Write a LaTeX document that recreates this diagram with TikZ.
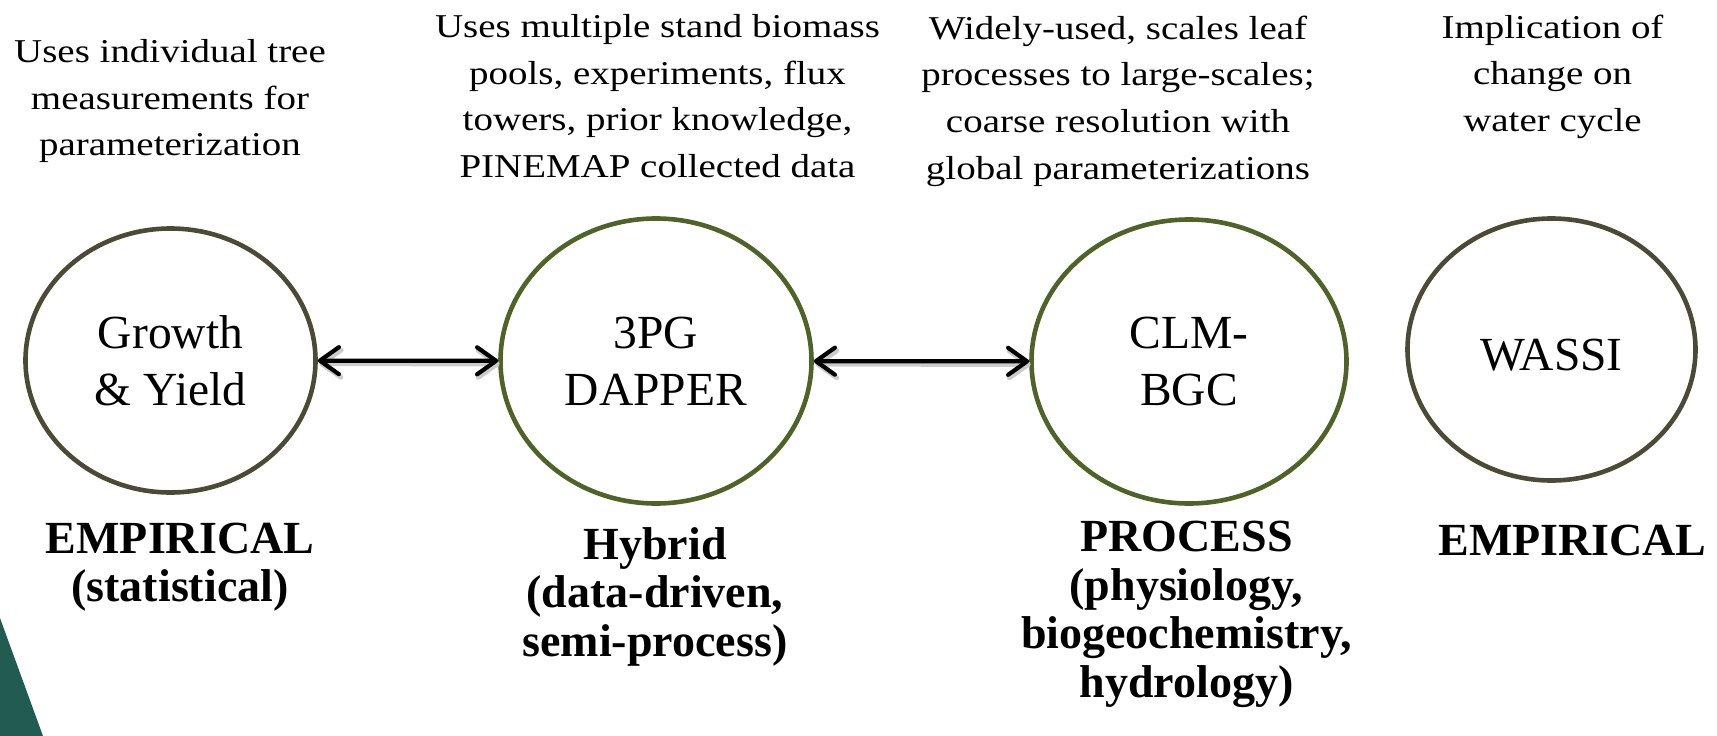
\documentclass[tikz,border=0pt]{standalone}
\usepackage{fontspec}
\setmainfont{Liberation Serif}
\newfontfamily\topfont{Liberation Serif}[FakeStretch=1.17]
\usetikzlibrary{shapes.geometric,arrows.meta}
\definecolor{olivegray}{HTML}{4A4A35}
\definecolor{olivegreen}{HTML}{4F6228}
\definecolor{tealdark}{HTML}{215B51}
\begin{document}
\begin{tikzpicture}[x=1pt,y=-1pt,
  model/.style={ellipse, draw, line width=4.6pt, inner sep=0pt, align=center,
    font=\fontsize{47.5}{57}\selectfont},
  graymodel/.style={model, draw=olivegray},
  greenmodel/.style={model, draw=olivegreen},
  note/.style={anchor=north, align=center, inner sep=0pt,
    font=\topfont\fontsize{33.3}{46.7}\selectfont},
  kind/.style={anchor=north, align=center, inner sep=0pt,
    font=\bfseries\fontsize{46}{48.5}\selectfont},
  link/.style={line width=4.2pt, black,
    {Straight Barb[length=19pt,width=27pt,round]}-{Straight Barb[length=19pt,width=27pt,round]},
    preaction={draw, black!20, line width=5pt, transform canvas={shift={(1.5pt,-3pt)}}}}
]
\useasboundingbox (0,0) rectangle (1717,736);
\fill[tealdark] (0,618) -- (43,736) -- (0,736) -- cycle;

% models
\node[graymodel, minimum width=290pt, minimum height=264pt] (gy) at (170.5,360.5) {Growth\\\& Yield};
\node[greenmodel, minimum width=311pt, minimum height=285pt] (pg) at (656,361) {3PG\\DAPPER};
\node[greenmodel, minimum width=315pt, minimum height=284pt] (clm) at (1189,361.5) {CLM-\\BGC};
\node[graymodel, minimum width=288pt, minimum height=262pt, text height=41pt, text depth=0pt] (wa) at (1551.5,349.5) {WASSI};

% connectors
\draw[link] (gy) -- (pg);
\draw[link] (pg) -- (clm);

% descriptions
\node[note] (n1) at (170,39.2) {Uses individual tree\\measurements for\\parameterization};
\node[note] (n2) at (657.5,14.2) {Uses multiple stand biomass\\pools, experiments, flux\\towers, prior knowledge,\\PINEMAP collected data};
\node[note] (n3) at (1118,15.5) {Widely-used, scales leaf\\processes to large-scales;\\coarse resolution with\\global parameterizations};
\node[note] (n4) at (1552.5,14.5) {Implication of\\change on\\water cycle};

% model kinds
\node[kind] (k1) at (180,522.5) {EMPIRICAL\\(statistical)};
\node[kind] (k2) at (655,527) {Hybrid\\(data-driven,\\semi-process)};
\node[kind] (k3) at (1186.5,521) {PROCESS\\(physiology,\\biogeochemistry,\\hydrology)};
\node[kind] (k4) at (1572.5,524.5) {EMPIRICAL};
\end{tikzpicture}
\end{document}
